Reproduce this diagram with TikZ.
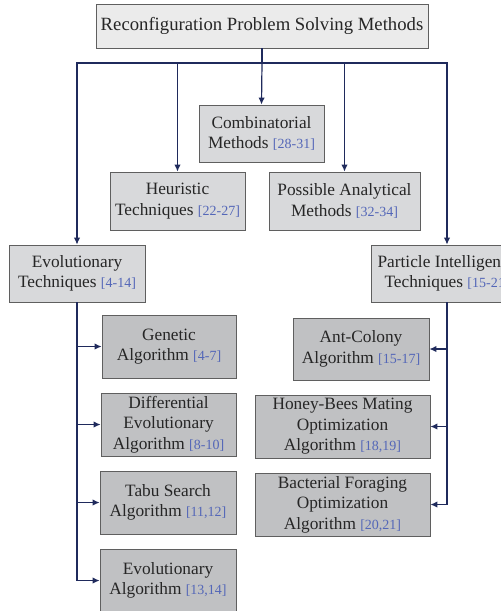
\documentclass[tikz,border=0pt]{standalone}
\usepackage{fontspec}
\setmainfont{Liberation Serif}
\usepackage{amsthm,amsmath,amssymb}
\usetikzlibrary{arrows.meta}

\definecolor{topfill}{HTML}{EBEBEB}
\definecolor{midfill}{HTML}{D8D9DB}
\definecolor{lowfill}{HTML}{C0C1C3}
\definecolor{boxline}{HTML}{5F5F5F}
\definecolor{linkblue}{HTML}{1F2A5C}
\definecolor{refblue}{HTML}{5467B8}

\newcommand{\rf}[1]{{\color{refblue}\fontsize{14}{20.5}\selectfont[#1]}}

\begin{document}
\begin{tikzpicture}[x=1pt, y=-1pt,
	box/.style={draw=boxline, line width=.9pt, align=center, inner sep=2pt, text=black!85,
		font=\fontsize{17.3}{20.5}\selectfont},
	topbox/.style={box, fill=topfill, minimum width=332pt, minimum height=44pt, font=\fontsize{18.7}{21}\selectfont},
	midbox/.style={box, fill=midfill, minimum height=57pt},
	lowbox/.style={box, fill=lowfill, minimum height=63pt},
	link/.style={draw=linkblue, line width=1.2pt, -{Latex[length=7pt,width=6.5pt]}}]
					\useasboundingbox (0,0) rectangle (501,611);
					\clip (0,0) rectangle (501,611);
					% top
					\node[topbox] (R) at (262,26) {Reconfiguration Problem Solving Methods};
					\coordinate (B) at (262,63);
					% second level
					\node[midbox, minimum width=125pt] (C) at (261.5,133.5) {Combinatorial\\Methods \rf{28-31}};
					\node[midbox, minimum width=135pt, minimum height=58pt] (H) at (177.5,201) {Heuristic\\Techniques \rf{22-27}};
					\node[midbox, minimum width=151pt, minimum height=58pt] (P) at (344.5,201) {Possible Analytical\\Methods \rf{32-34}};
					\node[midbox, minimum width=136pt] (E) at (77,273.5) {Evolutionary\\Techniques \rf{4-14}};
					\node[midbox, minimum width=152pt] (I) at (447,273.5) {Particle Intelligence\\Techniques \rf{15-21}};
					% evolutionary branch
					\node[lowbox, minimum width=134pt] (E1) at (169,346.5) {Genetic\\Algorithm \rf{4-7}};
					\node[lowbox, minimum width=135pt] (E2) at (168.5,424.5) {Differential\\Evolutionary\\Algorithm \rf{8-10}};
					\node[lowbox, minimum width=136pt] (E3) at (168,502.5) {Tabu Search\\Algorithm \rf{11,12}};
					\node[lowbox, minimum width=136pt] (E4) at (168,580.5) {Evolutionary\\Algorithm \rf{13,14}};
					% particle branch
					\node[lowbox, minimum width=136pt, minimum height=62pt] (I1) at (361,349) {Ant-Colony\\Algorithm \rf{15-17}};
					\node[lowbox, minimum width=175pt] (I2) at (342.5,426.5) {Honey-Bees Mating\\Optimization\\Algorithm \rf{18,19}};
					\node[lowbox, minimum width=175pt] (I3) at (342.5,504.5) {Bacterial Foraging\\Optimization\\Algorithm \rf{20,21}};
					% links
					\draw[link, -] (R.south) -- (B);
					\draw[link] (B) -- (C.north);
					\draw[link] (B) -| (H.north);
					\draw[link] (B) -| (P.north);
					\draw[link] (B) -| (E.north);
					\draw[link] (B) -| (I.north);
					\draw[link] (E.south) |- (E1.west);
					\draw[link] (E.south) |- (E2.west);
					\draw[link] (E.south) |- (E3.west);
					\draw[link] (E.south) |- (E4.west);
					\draw[link] (I.south) |- (I1.east);
					\draw[link] (I.south) |- (I2.east);
					\draw[link] (I.south) |- (I3.east);
				\end{tikzpicture}
\end{document}
